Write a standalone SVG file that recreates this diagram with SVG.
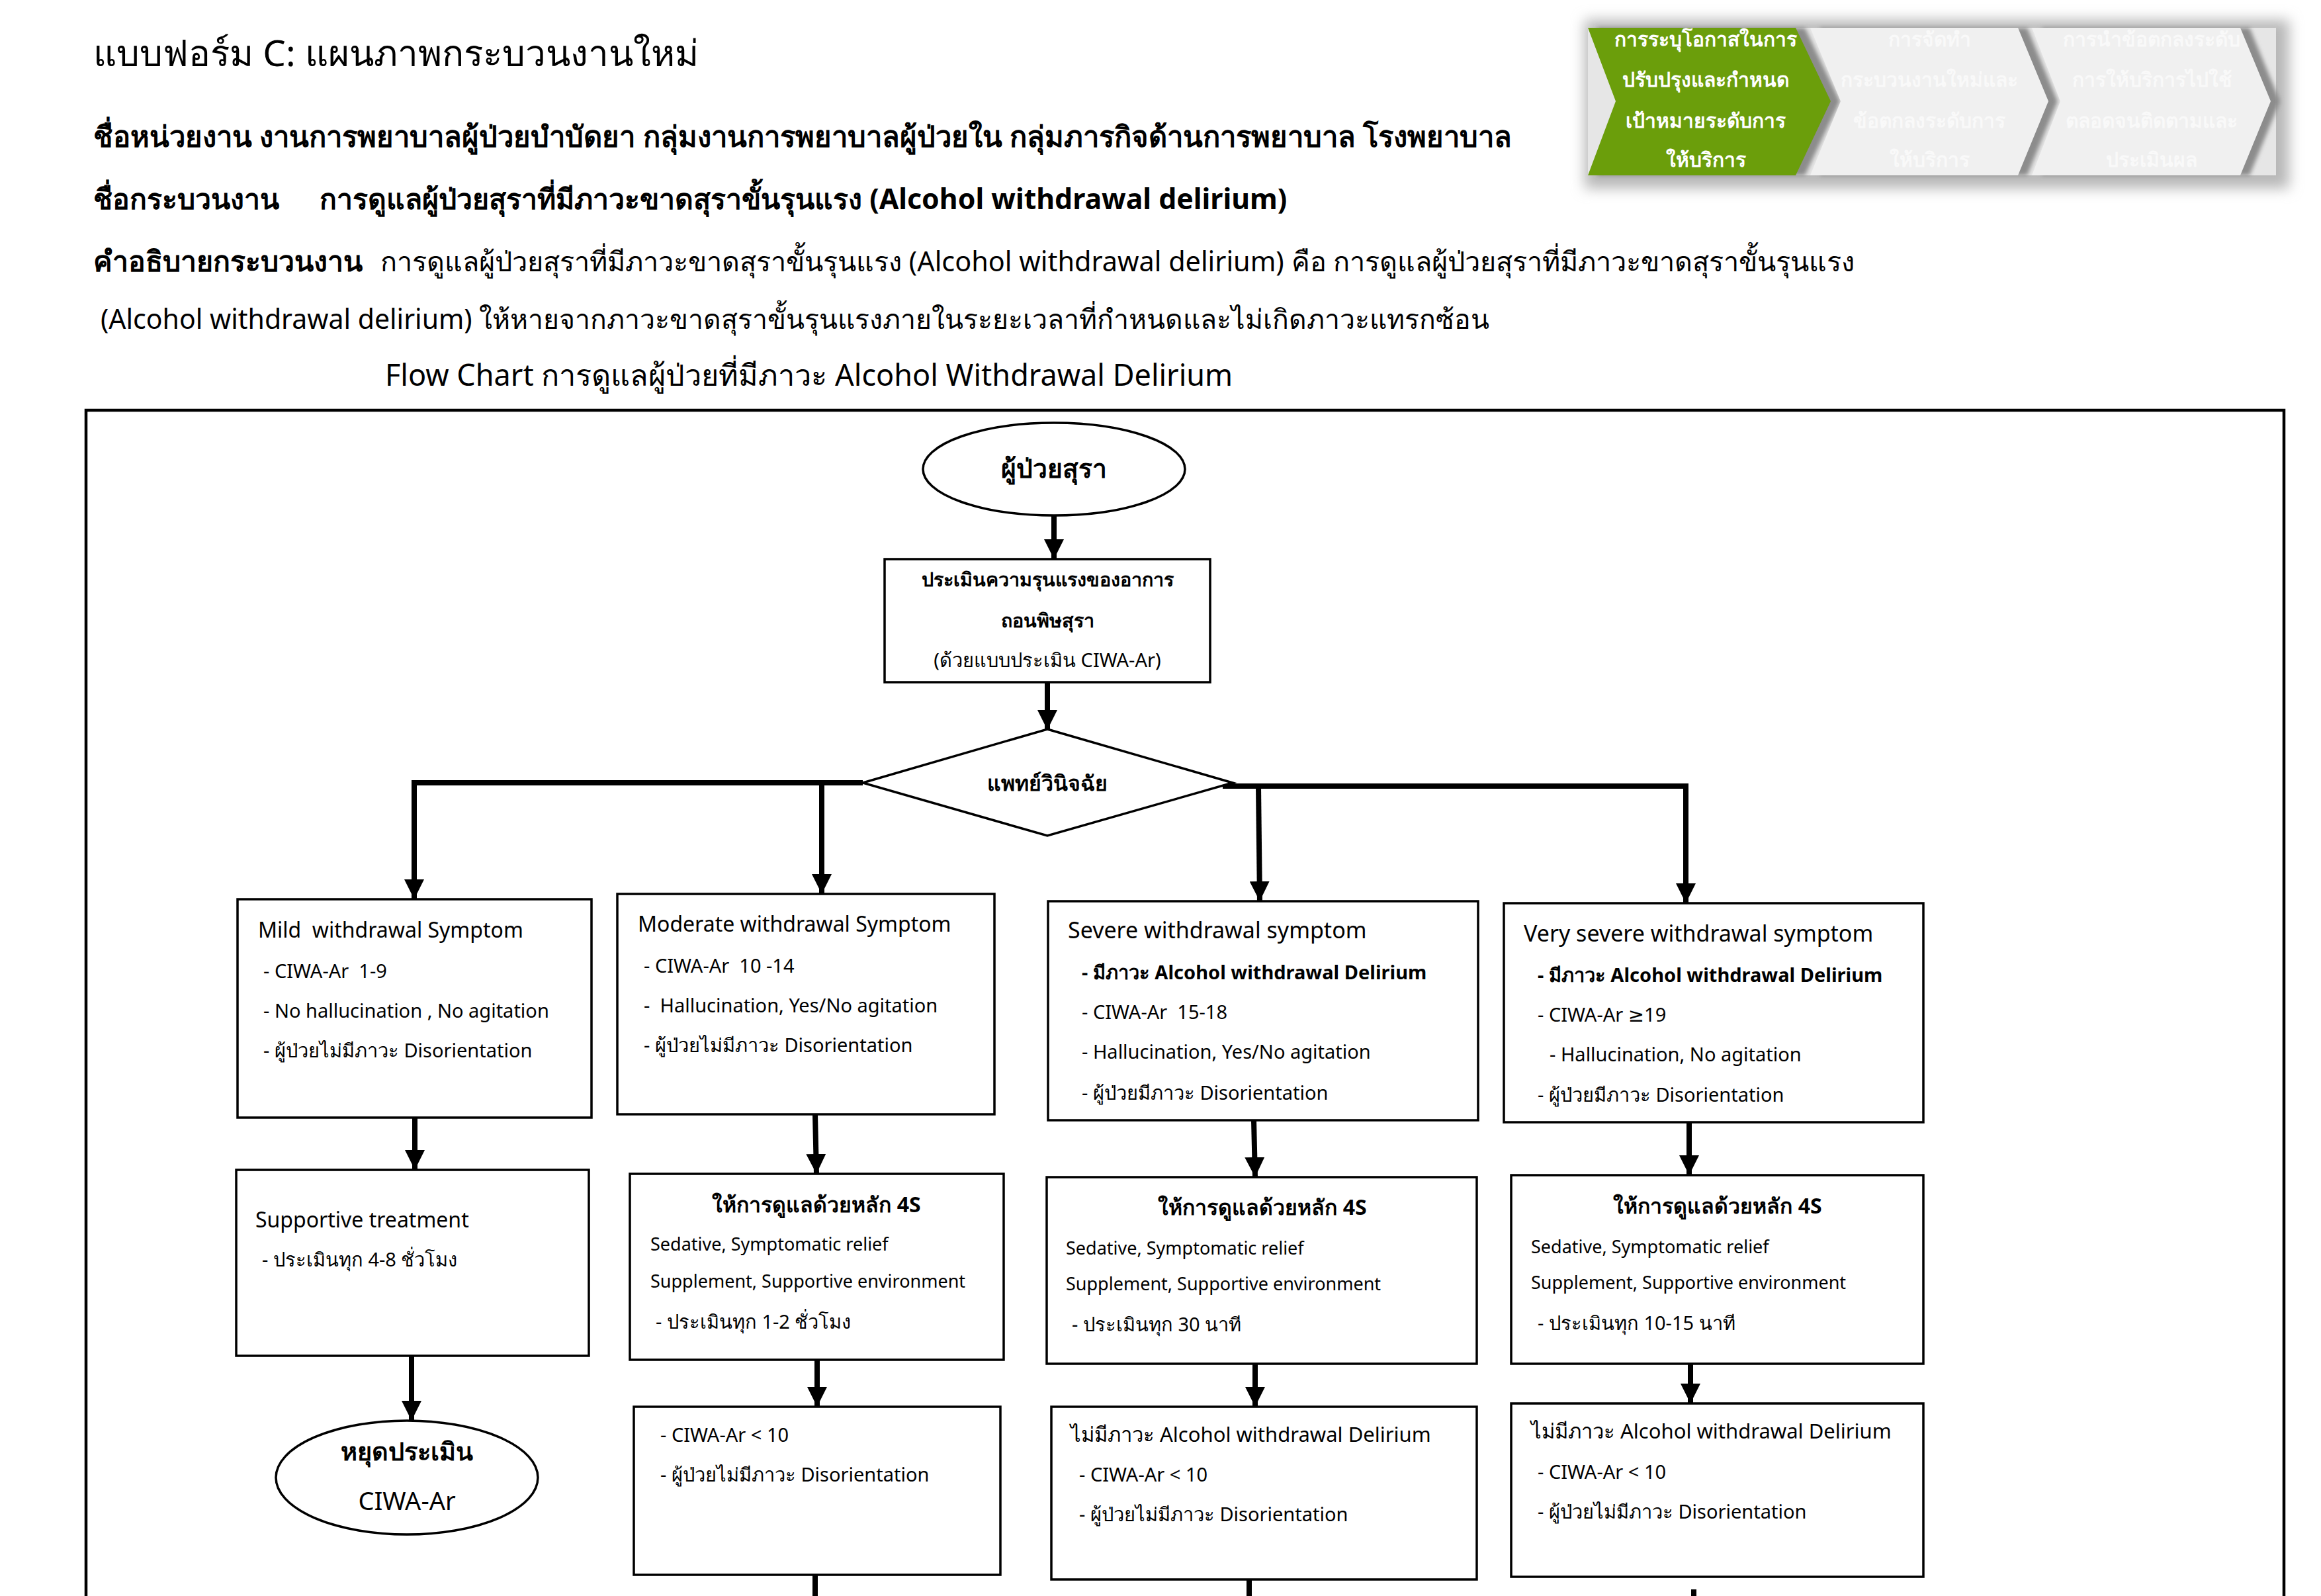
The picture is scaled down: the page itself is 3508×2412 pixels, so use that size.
<svg xmlns="http://www.w3.org/2000/svg" width="3508" height="2412" viewBox="0 0 3508 2412">
<style>
text{font-family:"Noto Sans","DejaVu Sans",sans-serif;fill:#000}
.hd{font-size:42.8px}
.hn{font-size:41px}
.b{font-weight:bold}
.bt{font-size:32px}
.bt2{font-size:34px}
.bi{font-size:29px}
.bs{font-size:27px}
.bx{fill:#fff;stroke:#000;stroke-width:3.5}
.cn{fill:none;stroke:#000;stroke-width:8}
.cw{font-size:30px;font-weight:bold;fill:#fff;text-anchor:middle}
.cg{font-size:30px;font-weight:bold;fill:#f9f9f9;text-anchor:middle}
.mid{text-anchor:middle}
</style>
<defs>
<marker id="ah" markerUnits="userSpaceOnUse" markerWidth="30" markerHeight="30" refX="28" refY="14" orient="auto" viewBox="0 0 28 28">
<path d="M0,0 L28,14 L0,28 z" fill="#000"/>
</marker>
<filter id="blur" x="-10%" y="-30%" width="120%" height="160%"><feGaussianBlur stdDeviation="10"/></filter>
<filter id="sblur" x="-10%" y="-10%" width="120%" height="120%"><feGaussianBlur stdDeviation="3"/></filter>
</defs>
<rect width="3508" height="2412" fill="#fff"/>

<g id="header">
<text x="141" y="100" style="font-size:54.8px">แบบฟอร์ม C: แผนภาพกระบวนงานใหม่</text>
<text x="141" y="222" class="b" style="font-size:43.6px">ชื่อหน่วยงาน งานการพยาบาลผู้ป่วยบำบัดยา กลุ่มงานการพยาบาลผู้ป่วยใน กลุ่มภารกิจด้านการพยาบาล โรงพยาบาล</text>
<text x="141" y="316" class="hd b">ชื่อกระบวนงาน</text>
<text x="483" y="316" class="hd b">การดูแลผู้ป่วยสุราที่มีภาวะขาดสุราขั้นรุนแรง (Alcohol withdrawal delirium)</text>
<text x="141" y="410" class="hd b">คำอธิบายกระบวนงาน</text>
<text x="575" y="410" style="font-size:41.4px">การดูแลผู้ป่วยสุราที่มีภาวะขาดสุราขั้นรุนแรง (Alcohol withdrawal delirium) คือ การดูแลผู้ป่วยสุราที่มีภาวะขาดสุราขั้นรุนแรง</text>
<text x="152" y="497" class="hn">(Alcohol withdrawal delirium) ให้หายจากภาวะขาดสุราขั้นรุนแรงภายในระยะเวลาที่กำหนดและไม่เกิดภาวะแทรกซ้อน</text>
<text x="582" y="583" style="font-size:45px">Flow Chart การดูแลผู้ป่วยที่มีภาวะ Alcohol Withdrawal Delirium</text>
</g>

<g id="chevrons">
<rect x="2395" y="30" width="1065" height="255" fill="#b8b8b8" filter="url(#blur)"/>
<rect x="2400" y="42" width="1040" height="223" fill="#e6e6e6"/>
<g fill="#8c8c8c" filter="url(#sblur)">
<polygon points="2414,42 2728,42 2781,153 2728,265 2414,265 2456,153"/>
<polygon points="2750,42 3064,42 3110,153 3064,265 2750,265 2796,153"/>
<polygon points="3085,42 3400,42 3446,153 3400,265 3085,265 3128,153"/>
</g>
<polygon points="2400,42 2714,42 2767,153 2714,265 2400,265 2442,153" fill="#6b9e0b"/>
<polygon points="2736,42 3050,42 3096,153 3050,265 2736,265 2782,153" fill="#f0f0f0"/>
<polygon points="3071,42 3386,42 3432,153 3386,265 3071,265 3114,153" fill="#f0f0f0"/>
<text x="2578" y="70" class="cw">การระบุโอกาสในการ</text>
<text x="2578" y="131" class="cw">ปรับปรุงและกำหนด</text>
<text x="2578" y="193" class="cw">เป้าหมายระดับการ</text>
<text x="2578" y="252" class="cw">ให้บริการ</text>
<text x="2916" y="70" class="cg">การจัดทำ</text>
<text x="2916" y="131" class="cg">กระบวนงานใหม่และ</text>
<text x="2916" y="193" class="cg">ข้อตกลงระดับการ</text>
<text x="2916" y="252" class="cg">ให้บริการ</text>
<text x="3252" y="70" class="cg">การนำข้อตกลงระดับ</text>
<text x="3252" y="131" class="cg">การให้บริการไปใช้</text>
<text x="3252" y="193" class="cg">ตลอดจนติดตามและ</text>
<text x="3252" y="252" class="cg">ประเมินผล</text>
</g>

<g id="frame">
<path d="M130,2420 L130,620 L3452,620 L3452,2420" fill="none" stroke="#000" stroke-width="4.5"/>
</g>

<g id="connectors">
<path class="cn" d="M1593,779 L1593,845" marker-end="url(#ah)"/>
<path class="cn" d="M1583,1031 L1583,1103" marker-end="url(#ah)"/>
<path class="cn" d="M622,1183 L1304,1183"/>
<path class="cn" d="M1848,1188 L2552,1188"/>
<path class="cn" d="M626,1183 L626,1359" marker-end="url(#ah)"/>
<path class="cn" d="M1242,1183 L1242,1351" marker-end="url(#ah)"/>
<path class="cn" d="M1902,1188 L1904,1362" marker-end="url(#ah)"/>
<path class="cn" d="M2548,1188 L2548,1365" marker-end="url(#ah)"/>
<path class="cn" d="M627,1689 L627,1768" marker-end="url(#ah)"/>
<path class="cn" d="M622,2049 L622,2147" marker-end="url(#ah)"/>
<path class="cn" d="M1232,1684 L1234,1774" marker-end="url(#ah)"/>
<path class="cn" d="M1235,2055 L1235,2126" marker-end="url(#ah)"/>
<path class="cn" d="M1232,2380 L1232,2420"/>
<path class="cn" d="M1895,1693 L1897,1779" marker-end="url(#ah)"/>
<path class="cn" d="M1897,2061 L1897,2126" marker-end="url(#ah)"/>
<path class="cn" d="M1888,2387 L1888,2420"/>
<path class="cn" d="M2553,1696 L2553,1776" marker-end="url(#ah)"/>
<path class="cn" d="M2555,2061 L2555,2121" marker-end="url(#ah)"/>
<path class="cn" d="M2560,2402 L2560,2420"/>
</g>

<g id="start">
<ellipse cx="1593" cy="709" rx="198" ry="70" class="bx"/>
<text x="1593" y="722" class="mid b" style="font-size:39px">ผู้ป่วยสุรา</text>
</g>

<g id="assess">
<rect x="1337" y="845" width="492" height="186" class="bx"/>
<text x="1583" y="886" class="mid b" style="font-size:28.7px">ประเมินความรุนแรงของอาการ</text>
<text x="1583" y="948" class="mid b" style="font-size:28.7px">ถอนพิษสุรา</text>
<text x="1583" y="1008" class="mid" style="font-size:29px">(ด้วยแบบประเมิน CIWA-Ar)</text>
</g>

<g id="diagnose">
<polygon points="1583,1102 1863,1183 1583,1263 1304,1183" class="bx"/>
<text x="1583" y="1195" class="mid b" style="font-size:32px">แพทย์วินิจฉัย</text>
</g>

<g id="mild">
<rect x="359" y="1359" width="535" height="330" class="bx"/>
<text x="390" y="1417" class="bt" xml:space="preserve">Mild  withdrawal Symptom</text>
<text x="398" y="1478" class="bi" xml:space="preserve">- CIWA-Ar  1-9</text>
<text x="398" y="1538" class="bi">- No hallucination , No agitation</text>
<text x="398" y="1598" class="bi">- ผู้ป่วยไม่มีภาวะ Disorientation</text>
</g>

<g id="moderate">
<rect x="933" y="1351" width="570" height="333" class="bx"/>
<text x="964" y="1408" class="bt">Moderate withdrawal Symptom</text>
<text x="973" y="1470" class="bi" xml:space="preserve">- CIWA-Ar  10 -14</text>
<text x="973" y="1530" class="bi" xml:space="preserve">-  Hallucination, Yes/No agitation</text>
<text x="973" y="1590" class="bi">- ผู้ป่วยไม่มีภาวะ Disorientation</text>
</g>

<g id="severe">
<rect x="1584" y="1362" width="650" height="331" class="bx"/>
<text x="1614" y="1418" class="bt2">Severe withdrawal symptom</text>
<text x="1635" y="1480" class="bi b">- มีภาวะ Alcohol withdrawal Delirium</text>
<text x="1635" y="1540" class="bi" xml:space="preserve">- CIWA-Ar  15-18</text>
<text x="1635" y="1600" class="bi">- Hallucination, Yes/No agitation</text>
<text x="1635" y="1662" class="bi">- ผู้ป่วยมีภาวะ Disorientation</text>
</g>

<g id="verysevere">
<rect x="2273" y="1365" width="634" height="331" class="bx"/>
<text x="2303" y="1423" class="bt2">Very severe withdrawal symptom</text>
<text x="2324" y="1484" class="bi b">- มีภาวะ Alcohol withdrawal Delirium</text>
<text x="2324" y="1544" class="bi">- CIWA-Ar ≥19</text>
<text x="2342" y="1604" class="bi">- Hallucination, No agitation</text>
<text x="2324" y="1665" class="bi">- ผู้ป่วยมีภาวะ Disorientation</text>
</g>

<g id="supportive">
<rect x="357" y="1768" width="533" height="281" class="bx"/>
<text x="386" y="1855" class="bt">Supportive treatment</text>
<text x="396" y="1914" class="bi">- ประเมินทุก 4-8 ชั่วโมง</text>
</g>

<g id="stop">
<ellipse cx="615" cy="2233" rx="198" ry="86" class="bx"/>
<text x="615" y="2207" class="mid b" style="font-size:38px">หยุดประเมิน</text>
<text x="615" y="2282" class="mid" style="font-size:38px">CIWA-Ar</text>
</g>

<g id="moderate4s">
<rect x="952" y="1774" width="565" height="281" class="bx"/>
<text x="1234" y="1832" class="mid b" style="font-size:32px">ให้การดูแลด้วยหลัก 4S</text>
<text x="983" y="1890" class="bs">Sedative, Symptomatic relief</text>
<text x="983" y="1946" class="bs">Supplement, Supportive environment</text>
<text x="991" y="2008" class="bi">- ประเมินทุก 1-2 ชั่วโมง</text>
</g>

<g id="moderateresult">
<rect x="958" y="2126" width="554" height="254" class="bx"/>
<text x="998" y="2179" class="bi">- CIWA-Ar &lt; 10</text>
<text x="998" y="2239" class="bi">- ผู้ป่วยไม่มีภาวะ Disorientation</text>
</g>

<g id="severe4s">
<rect x="1582" y="1779" width="650" height="282" class="bx"/>
<text x="1908" y="1836" class="mid b" style="font-size:32px">ให้การดูแลด้วยหลัก 4S</text>
<text x="1611" y="1896" class="bs">Sedative, Symptomatic relief</text>
<text x="1611" y="1950" class="bs">Supplement, Supportive environment</text>
<text x="1620" y="2012" class="bi">- ประเมินทุก 30 นาที</text>
</g>

<g id="severeresult">
<rect x="1589" y="2126" width="643" height="261" class="bx"/>
<text x="1618" y="2179" style="font-size:31px">ไม่มีภาวะ Alcohol withdrawal Delirium</text>
<text x="1631" y="2239" class="bi">- CIWA-Ar &lt; 10</text>
<text x="1631" y="2299" class="bi">- ผู้ป่วยไม่มีภาวะ Disorientation</text>
</g>

<g id="verysevere4s">
<rect x="2284" y="1776" width="623" height="285" class="bx"/>
<text x="2596" y="1834" class="mid b" style="font-size:32px">ให้การดูแลด้วยหลัก 4S</text>
<text x="2314" y="1894" class="bs">Sedative, Symptomatic relief</text>
<text x="2314" y="1948" class="bs">Supplement, Supportive environment</text>
<text x="2324" y="2010" class="bi">- ประเมินทุก 10-15 นาที</text>
</g>

<g id="veryresult">
<rect x="2284" y="2121" width="623" height="262" class="bx"/>
<text x="2314" y="2174" style="font-size:31px">ไม่มีภาวะ Alcohol withdrawal Delirium</text>
<text x="2324" y="2235" class="bi">- CIWA-Ar &lt; 10</text>
<text x="2324" y="2295" class="bi">- ผู้ป่วยไม่มีภาวะ Disorientation</text>
</g>
</svg>
